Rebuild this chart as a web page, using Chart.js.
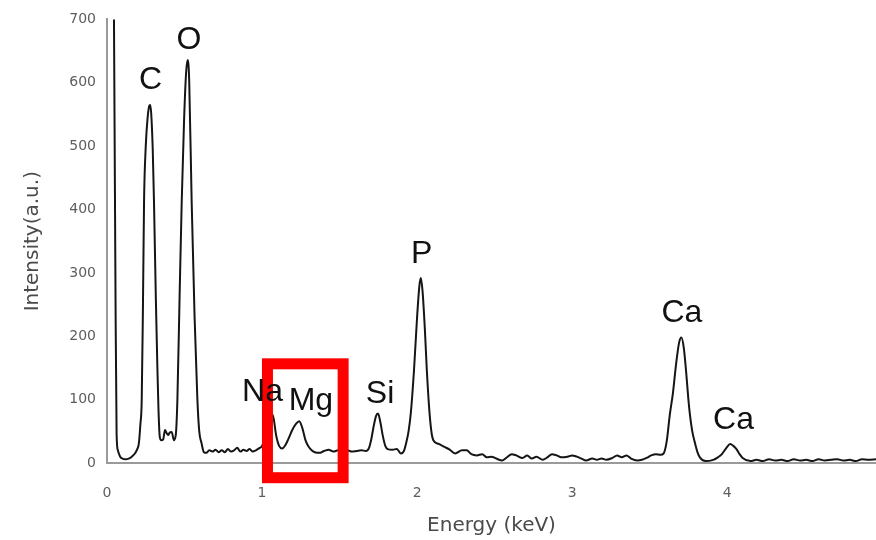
<!DOCTYPE html>
<html>
<head>
<meta charset="utf-8">
<script src="https://cdn.jsdelivr.net/npm/chart.js@4.4.1/dist/chart.umd.min.js"></script>
<style>
  html, body { margin: 0; padding: 0; background: #fff; }
  .wrap { position: relative; width: 876px; height: 540px; }
</style>
</head>
<body>
<div class="wrap"><canvas id="chartEds"></canvas></div>
<script>
// ── EDS spectrum ──
const energy = [
  0.030, 0.045, 0.055, 0.062, 0.070, 0.085, 0.100, 0.120, 0.140, 0.160, 0.180, 0.195, 0.205, 0.215,
  0.224, 0.232, 0.239, 0.250, 0.262, 0.272, 0.278, 0.285, 0.295, 0.303, 0.315, 0.325, 0.332, 0.340,
  0.350, 0.362, 0.374, 0.385, 0.394, 0.405, 0.417, 0.432, 0.444, 0.454,
  0.468, 0.482, 0.497, 0.510, 0.520, 0.530, 0.546, 0.565, 0.583, 0.595, 0.610, 0.625, 0.640,
  0.660, 0.680, 0.700, 0.720, 0.740, 0.760, 0.780, 0.800, 0.820, 0.840, 0.860, 0.880, 0.900,
  0.920, 0.940, 0.960, 0.980, 1.000,
  1.020, 1.040, 1.060, 1.075, 1.090, 1.110, 1.130, 1.150,
  1.170, 1.195, 1.220, 1.240, 1.260, 1.280, 1.300, 1.320, 1.340, 1.370, 1.400, 1.430, 1.460,
  1.490, 1.520, 1.550, 1.580, 1.610, 1.640, 1.670, 1.690,
  1.705, 1.720, 1.735, 1.748, 1.762, 1.778, 1.795, 1.810, 1.840, 1.870, 1.895, 1.915,
  1.930, 1.945, 1.960, 1.980, 2.000, 2.015, 2.024, 2.035, 2.050, 2.063, 2.080, 2.095, 2.105,
  2.140, 2.180, 2.210, 2.245, 2.290, 2.320, 2.350, 2.385, 2.420, 2.450, 2.480, 2.510, 2.550,
  2.580, 2.610, 2.640, 2.680, 2.710, 2.740, 2.770, 2.810, 2.840, 2.870, 2.900, 2.930, 2.970,
  3.000, 3.030, 3.060, 3.090, 3.130, 3.160, 3.190, 3.220, 3.260, 3.290, 3.320, 3.350, 3.380,
  3.420, 3.450, 3.480, 3.510, 3.540, 3.570,
  3.590, 3.610, 3.630, 3.650, 3.670, 3.690, 3.705, 3.720, 3.735, 3.750, 3.760, 3.775, 3.790,
  3.810, 3.826, 3.860, 3.910, 3.940, 3.966, 3.995, 4.020, 4.040, 4.060, 4.080, 4.100, 4.150,
  4.190, 4.230, 4.270, 4.310, 4.350, 4.390, 4.430, 4.470, 4.510, 4.550, 4.590, 4.630, 4.670,
  4.710, 4.750, 4.790, 4.830, 4.870, 4.910, 4.960
];
const counts = [
  1600, 700, 260, 45, 20, 10, 7, 6, 7, 10, 15, 22, 30, 60,
  100, 250, 413, 500, 545, 563, 565, 552, 495, 413, 260, 150, 85, 42,
  36, 37, 52, 47, 44, 48, 49, 36, 45, 100,
  260, 413, 540, 615, 636, 605, 413, 230, 100, 50, 31, 17, 16,
  20, 18, 21, 17, 20, 17, 22, 18, 20, 24, 18, 21, 19,
  22, 18, 20, 23, 27,
  40, 62, 78, 70, 45, 27, 23, 28,
  38, 52, 62, 66, 55, 36, 26, 20, 17, 16, 19, 21, 18,
  20, 17, 20, 18, 19, 20, 19, 24,
  38, 58, 74, 78, 66, 44, 27, 22, 21, 22, 15, 19,
  32, 50, 80, 146, 230, 280, 292, 272, 212, 146, 80, 45, 36,
  30, 25, 21, 15, 20, 20, 14, 12, 14, 9, 10, 7, 4,
  9, 14, 12, 8, 12, 7, 10, 5, 9, 14, 12, 9, 10,
  12, 10, 7, 4, 7, 5, 7, 5, 8, 12, 9, 12, 7,
  4, 5, 8, 12, 14, 13,
  15, 34, 76, 110, 155, 190, 198, 182, 145, 100, 76, 50, 34,
  16, 8, 3, 5, 9, 14, 24, 30, 27, 22, 14, 8, 3,
  5, 3, 6, 4, 5, 3, 6, 4, 5, 3, 6, 4, 5,
  6, 4, 5, 3, 6, 5, 6
];

const xTicks = [0, 1, 2, 3, 4];
const yTicks = [0, 100, 200, 300, 400, 500, 600, 700];

// element labels (data coordinates of the text centre)
const peakNames = ['C', 'O', 'Na', 'Mg', 'Si', 'P', 'Ca', 'Ca'];
const peakLabelX = [0.281, 0.529, 1.003, 1.315, 1.761, 2.030, 3.708, 4.041];
const peakLabelY = [604, 667, 111, 97, 108, 330, 237, 67];

// highlight box round the Mg peak (keV, a.u.)
const boxX = [1.035, 1.523];
const boxY = [156.5, -23.2];

const overlay = {
    id: 'overlay',
    afterDatasetsDraw(chart) {
        const { ctx, scales: { x, y } } = chart;
        ctx.save();
        // red box
        const x0 = x.getPixelForValue(boxX[0]), x1 = x.getPixelForValue(boxX[1]);
        const y0 = y.getPixelForValue(boxY[0]), y1 = y.getPixelForValue(boxY[1]);
        ctx.strokeStyle = '#ff0000';
        ctx.lineWidth = 11;
        ctx.strokeRect(x0, y0, x1 - x0, y1 - y0);
        // element names
        ctx.fillStyle = '#111';
        ctx.font = '32px "Liberation Sans", Arial, sans-serif';
        ctx.textAlign = 'center';
        ctx.textBaseline = 'middle';
        peakNames.forEach((name, i) => {
            ctx.fillText(name, x.getPixelForValue(peakLabelX[i]), y.getPixelForValue(peakLabelY[i]));
        });
        ctx.restore();
    }
};

new Chart(document.getElementById('chartEds'), {
    type: 'line',
    data: {
        datasets: [{
            data: energy.map((e, i) => ({ x: e, y: counts[i] })),
            borderColor: '#151515',
            borderWidth: 2,
            pointRadius: 0,
            cubicInterpolationMode: 'monotone',
            fill: false
        }]
    },
    options: {
        responsive: true, maintainAspectRatio: false,
        animation: false,
        layout: { padding: { top: 17, right: 0, left: 0, bottom: 0 } },
        plugins: {
            legend: { display: false },
            tooltip: { enabled: false }
        },
        scales: {
            x: {
                type: 'linear',
                min: 0, max: 4.96,
                afterBuildTicks: s => { s.ticks = xTicks.map(v => ({ value: v })); },
                afterFit: s => { s.height = 77; },
                grid: { display: false, drawTicks: false },
                border: { display: true, color: '#9a9a9a', width: 2 },
                ticks: {
                    color: '#5e5e5e', padding: 22, maxRotation: 0,
                    font: { family: '"DejaVu Sans"', size: 14 }
                },
                title: {
                    display: true, text: 'Energy (keV)', color: '#4a4a4a',
                    font: { family: '"DejaVu Sans"', size: 20 },
                    padding: { top: 0, bottom: 2 }
                }
            },
            y: {
                min: 0, max: 700,
                afterBuildTicks: s => { s.ticks = yTicks.map(v => ({ value: v })); },
                afterFit: s => { s.width = 107; },
                grid: { display: false, drawTicks: false },
                border: { display: true, color: '#9a9a9a', width: 2 },
                ticks: {
                    color: '#5e5e5e', padding: 11,
                    font: { family: '"DejaVu Sans"', size: 14 }
                },
                title: {
                    display: true, text: 'Intensity(a.u.)', color: '#4a4a4a',
                    font: { family: '"DejaVu Sans"', size: 20 },
                    padding: { top: 21, bottom: 0 }
                }
            }
        }
    },
    plugins: [overlay]
});
</script>
</body>
</html>
